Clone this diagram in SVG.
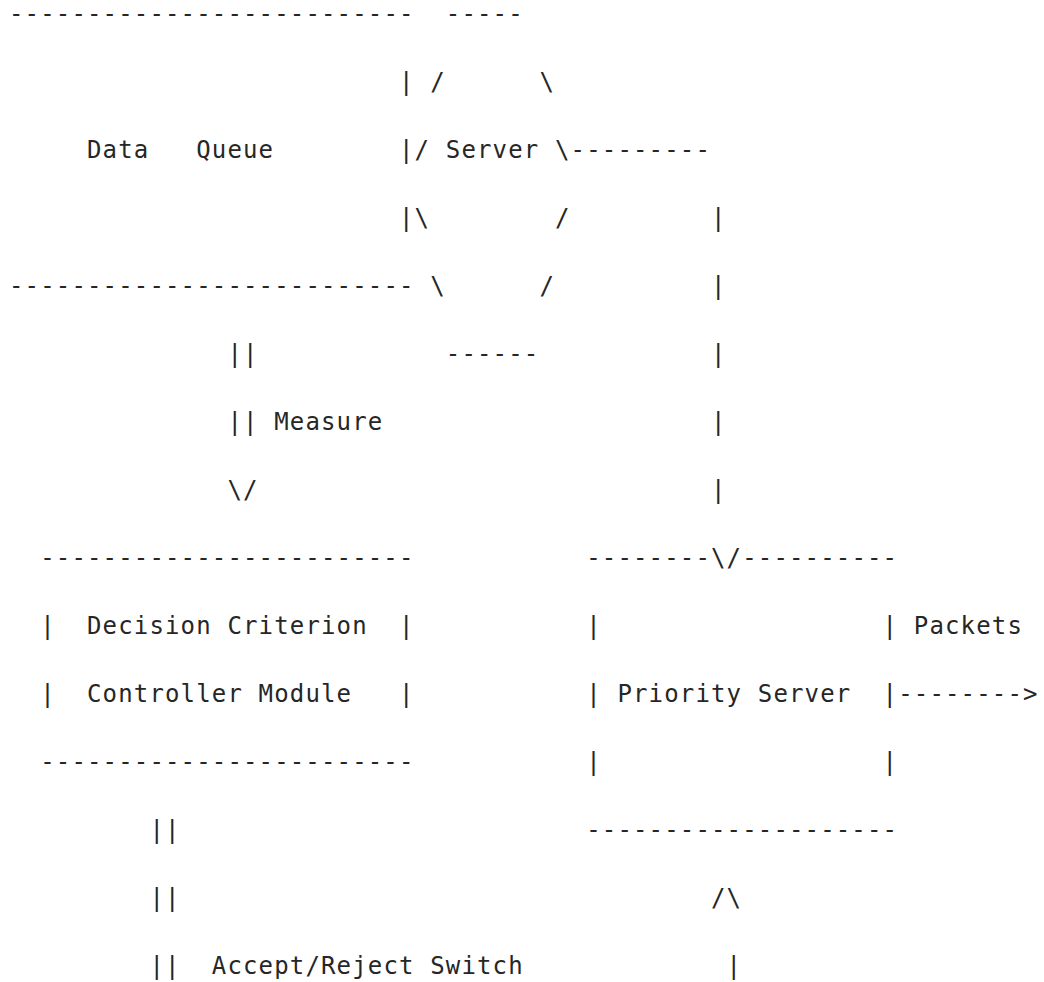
<svg xmlns="http://www.w3.org/2000/svg" width="1044" height="982" viewBox="0 0 1044 982">
  <style>
    text { font-family: "DejaVu Sans Mono", "Liberation Mono", monospace; font-size: 24px; letter-spacing: 1.15px; fill: #262626; white-space: pre; }
  </style>
  <rect width="1044" height="982" fill="#ffffff"/>
  <!-- column grid: x = 9 + col * 15.6, row baselines every 68px -->
  <g id="data-queue">
    <text x="9" y="22">--------------------------</text>
    <text x="399" y="90">|</text>
    <text x="87" y="158">Data   Queue</text>
    <text x="399" y="158">|</text>
    <text x="399" y="226">|</text>
    <text x="9" y="294">--------------------------</text>
  </g>
  <g id="server">
    <text x="445.8" y="22">-----</text>
    <text x="430.2" y="90">/</text>
    <text x="539.4" y="90">\</text>
    <text x="414.6" y="158">/</text>
    <text x="445.8" y="158">Server</text>
    <text x="555" y="158">\</text>
    <text x="414.6" y="226">\</text>
    <text x="555" y="226">/</text>
    <text x="430.2" y="294">\</text>
    <text x="539.4" y="294">/</text>
    <text x="445.8" y="362">------</text>
  </g>
  <g id="controller-module">
    <text x="40.2" y="566">------------------------</text>
    <text x="40.2" y="634">|</text>
    <text x="87" y="634">Decision Criterion</text>
    <text x="399" y="634">|</text>
    <text x="40.2" y="702">|</text>
    <text x="87" y="702">Controller Module</text>
    <text x="399" y="702">|</text>
    <text x="40.2" y="770">------------------------</text>
  </g>
  <g id="priority-server">
    <text x="586.2" y="566">--------</text>
    <text x="742.2" y="566">----------</text>
    <text x="586.2" y="634">|</text>
    <text x="882.6" y="634">|</text>
    <text x="586.2" y="702">|</text>
    <text x="617.4" y="702">Priority Server</text>
    <text x="882.6" y="702">|</text>
    <text x="586.2" y="770">|</text>
    <text x="882.6" y="770">|</text>
    <text x="586.2" y="838">--------------------</text>
  </g>
  <g id="connectors">
    <!-- server output down to priority server -->
    <text x="570.6" y="158">---------</text>
    <text x="711" y="226">|</text>
    <text x="711" y="294">|</text>
    <text x="711" y="362">|</text>
    <text x="711" y="430">|</text>
    <text x="711" y="498">|</text>
    <text x="711" y="566">\/</text>
    <!-- queue measurement into controller -->
    <text x="227.4" y="362">||</text>
    <text x="227.4" y="430">||</text>
    <text x="274.2" y="430">Measure</text>
    <text x="227.4" y="498">\/</text>
    <!-- packets out -->
    <text x="913.8" y="634">Packets</text>
    <text x="898.2" y="702">--------&gt;</text>
    <!-- accept/reject switch -->
    <text x="149.4" y="838">||</text>
    <text x="149.4" y="906">||</text>
    <text x="149.4" y="974">||</text>
    <text x="211.8" y="974">Accept/Reject Switch</text>
    <!-- input into priority server -->
    <text x="711" y="906">/\</text>
    <text x="726.6" y="974">|</text>
  </g>
</svg>
